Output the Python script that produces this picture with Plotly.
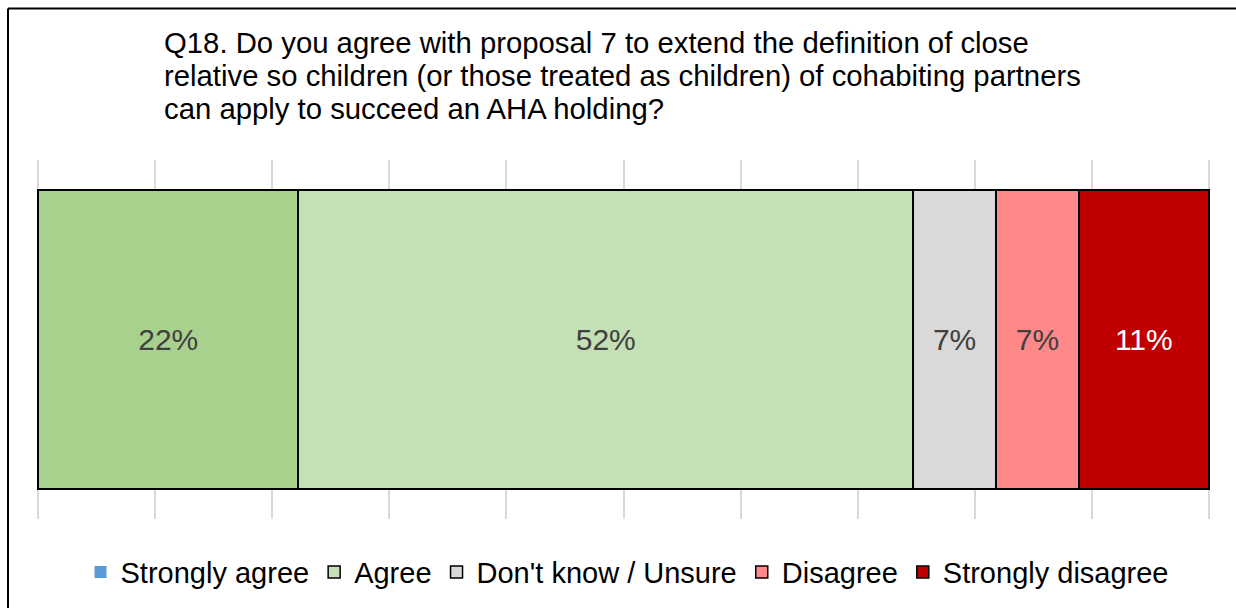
import plotly.graph_objects as go

# Survey responses for Q18 (percent of respondents)
categories = ["Strongly agree", "Agree", "Don't know / Unsure", "Disagree", "Strongly disagree"]
values = [22, 52, 7, 7, 11]
bar_colors = ["#A9D18E", "#C5E0B4", "#D9D9D9", "#FF8989", "#C00000"]
legend_colors = ["#5B9BD5", "#C5E0B4", "#D9D9D9", "#FF8989", "#C00000"]
legend_borders = [0, 1.5, 1.5, 1.5, 1.5]
label_colors = ["#404040", "#404040", "#404040", "#404040", "#FFFFFF"]
row = ["Q18"]
tick_values = list(range(0, 101, 10))

title_lines = [
    "Q18. Do you agree with proposal 7 to extend the definition of close",
    "relative so children (or those treated as children) of cohabiting partners",
    "can apply to succeed an AHA holding?",
]

FONT = "Liberation Sans, Arial, sans-serif"
W, H = 1236, 608
ML, MR, MT, MB = 37, 26, 160, 88
PW, PH = W - ML - MR, H - MT - MB

fig = go.Figure()

# stacked segments
for cat, val, col, tcol in zip(categories, values, bar_colors, label_colors):
    fig.add_trace(go.Bar(
        y=row, x=[val], orientation="h", name=cat,
        marker=dict(color=col, line=dict(color="#000000", width=1.8)),
        text=[f"{val}%"], textposition="inside", insidetextanchor="middle",
        textfont=dict(family=FONT, size=30, color=tcol),
        showlegend=False, hoverinfo="skip",
    ))

# legend entries
for cat, col, bw in zip(categories, legend_colors, legend_borders):
    fig.add_trace(go.Bar(
        y=[None], x=[None], orientation="h", name=cat,
        marker=dict(color=col, line=dict(color="#000000", width=bw)),
        showlegend=True,
    ))

# title block, one annotation per line
line_step = 33
first_baseline = 55
for i, line in enumerate(title_lines):
    base_px = first_baseline + i * line_step
    fig.add_annotation(
        text=line, xref="paper", yref="paper",
        x=(162 - ML) / PW, y=(H - MB - base_px - 6) / PH,
        xanchor="left", yanchor="bottom", showarrow=False,
        font=dict(family=FONT, size=29.3, color="#000000"),
    )

# outer chart frame (left and top edges)
frame_x = (8 - ML) / PW
frame_y = (H - MB - 8) / PH
fig.add_shape(type="line", xref="paper", yref="paper",
              x0=frame_x, x1=frame_x, y0=-(MB + 10) / PH, y1=frame_y,
              line=dict(color="#000000", width=2), layer="above")
fig.add_shape(type="line", xref="paper", yref="paper",
              x0=frame_x, x1=(W + 10 - ML) / PW, y0=frame_y, y1=frame_y,
              line=dict(color="#000000", width=2), layer="above")

fig.update_layout(
    width=W, height=H,
    margin=dict(l=ML, r=MR, t=MT, b=MB, pad=0),
    barmode="stack", barnorm="percent", bargap=0.167,
    plot_bgcolor="#FFFFFF", paper_bgcolor="#FFFFFF",
    font=dict(family=FONT, size=29, color="#000000"),
    showlegend=True,
    legend=dict(
        orientation="h", x=0.503, xanchor="center", y=-0.145, yanchor="middle",
        font=dict(family=FONT, size=29, color="#000000"),
        itemclick=False, itemdoubleclick=False, traceorder="normal",
    ),
    xaxis=dict(
        range=[-0.1, 100.1], tickvals=tick_values, showticklabels=False,
        showgrid=True, gridcolor="#D9D9D9", gridwidth=2,
        zeroline=False, showline=False, fixedrange=True,
    ),
    yaxis=dict(showticklabels=False, showgrid=False, zeroline=False, fixedrange=True),
)

fig.write_html("out.html", config={"displayModeBar": False})
